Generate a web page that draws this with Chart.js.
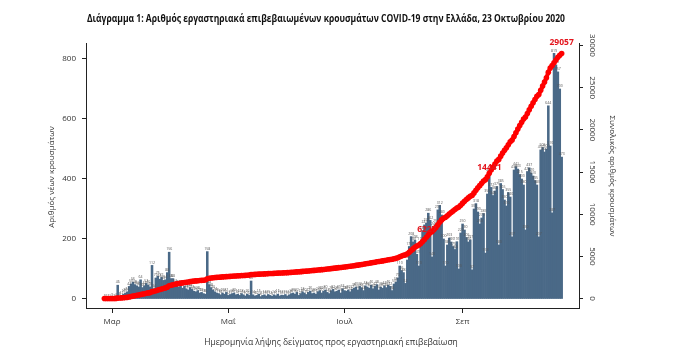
<!DOCTYPE html>
<html>
<head>
<meta charset="utf-8">
<script src="https://cdn.jsdelivr.net/npm/chart.js@4.4.1/dist/chart.umd.min.js"></script>
<style>
  html, body { margin: 0; padding: 0; background: #fff; }
  canvas { display: block; }
</style>
</head>
<body>
<canvas id="chart" width="680" height="359"></canvas>
<script>
const chartTitle = "Διάγραμμα 1: Αριθμός εργαστηριακά επιβεβαιωμένων κρουσμάτων COVID-19 στην Ελλάδα, 23 Οκτωβρίου 2020";
const leftAxisTitle = "Αριθμός νέων κρουσμάτων";
const rightAxisTitle = "Συνολικός αριθμός κρουσμάτων";
const xAxisTitle = "Ημερομηνία λήψης δείγματος προς εργαστηριακή επιβεβαίωση";

// one value per sample day, day 0 = 26 Feb 2020, last day = 23 Oct 2020
const newCases = [
  1, 0, 2, 1, 3, 2, 4, 46, 8, 12,
  16, 20, 24, 42, 50, 56, 48, 44, 40, 64,
  38, 44, 52, 46, 40, 112, 34, 70, 76, 66,
  72, 62, 64, 88, 156, 68, 68, 52, 46, 40,
  46, 36, 42, 34, 30, 38, 32, 26, 24, 28,
  20, 22, 18, 16, 158, 48, 38, 30, 24, 20,
  18, 14, 20, 16, 22, 12, 15, 18, 20, 14,
  16, 12, 18, 14, 10, 16, 12, 60, 14, 10,
  12, 16, 8, 12, 14, 10, 15, 12, 9, 14,
  11, 16, 10, 13, 12, 15, 10, 14, 18, 20,
  16, 22, 12, 18, 24, 20, 15, 22, 26, 18,
  20, 16, 24, 28, 20, 26, 30, 22, 18, 28,
  32, 24, 26, 30, 20, 34, 28, 26, 30, 24,
  32, 36, 40, 30, 42, 38, 28, 44, 40, 36,
  46, 34, 42, 48, 30, 40, 36, 44, 38, 46,
  42, 28, 50, 56, 70, 110, 95, 88, 52, 130,
  175, 208, 190, 196, 149, 110, 190, 228, 247, 253,
  286, 262, 140, 240, 250, 297, 312, 280, 200, 110,
  180, 203, 190, 175, 165, 191, 100, 220, 250, 230,
  205, 190, 197, 97, 300, 318, 290, 250, 270, 285,
  153, 350, 420, 372, 345, 360, 375, 180, 385, 365,
  330, 310, 355, 340, 207, 430, 441, 433, 415, 400,
  380, 230, 425, 437, 420, 410, 395, 380, 207, 497,
  505, 490, 500, 644, 510, 287, 819, 780, 757, 700,
  473
];

const totalCases = [
  1, 1, 3, 4, 7, 9, 13, 59, 67, 79,
  95, 115, 139, 181, 231, 287, 335, 379, 419, 483,
  521, 565, 617, 663, 703, 815, 849, 919, 995, 1061,
  1133, 1195, 1259, 1347, 1503, 1571, 1639, 1691, 1737, 1777,
  1823, 1859, 1901, 1935, 1965, 2003, 2035, 2061, 2085, 2113,
  2133, 2155, 2173, 2189, 2347, 2395, 2433, 2463, 2487, 2507,
  2525, 2539, 2559, 2575, 2597, 2609, 2624, 2642, 2662, 2676,
  2692, 2704, 2722, 2736, 2746, 2762, 2774, 2834, 2848, 2858,
  2870, 2886, 2894, 2906, 2920, 2930, 2945, 2957, 2966, 2980,
  2991, 3007, 3017, 3030, 3042, 3057, 3067, 3081, 3099, 3119,
  3135, 3157, 3169, 3187, 3211, 3231, 3246, 3268, 3294, 3312,
  3332, 3348, 3372, 3400, 3420, 3446, 3476, 3498, 3516, 3544,
  3576, 3600, 3626, 3656, 3676, 3710, 3738, 3764, 3794, 3818,
  3850, 3886, 3926, 3956, 3998, 4036, 4064, 4108, 4148, 4184,
  4230, 4264, 4306, 4354, 4384, 4424, 4460, 4504, 4542, 4588,
  4630, 4658, 4708, 4764, 4834, 4944, 5039, 5127, 5179, 5309,
  5484, 5692, 5882, 6078, 6227, 6337, 6527, 6755, 7002, 7255,
  7541, 7803, 7943, 8183, 8433, 8730, 9042, 9322, 9522, 9632,
  9812, 10015, 10205, 10380, 10545, 10736, 10836, 11056, 11306, 11536,
  11741, 11931, 12128, 12225, 12525, 12843, 13133, 13383, 13653, 13938,
  14091, 14441, 14861, 15233, 15578, 15938, 16313, 16493, 16878, 17243,
  17573, 17883, 18238, 18578, 18785, 19215, 19656, 20089, 20504, 20904,
  21284, 21514, 21939, 22376, 22796, 23206, 23601, 23981, 24188, 24685,
  25190, 25680, 26180, 26824, 27334, 27621, 27950, 28280, 28600, 28850,
  29057
];

const labelledDays = [164, 201, 240];
const xTickDays = [4, 65, 126, 188];
const xTickLabels = ["Μαρ", "Μαΐ", "Ιουλ", "Σεπ"];
const leftTicks = [0, 200, 400, 600, 800];
const rightTicks = [0, 5000, 10000, 15000, 20000, 25000, 30000];

const FONT = "'Open Sans', 'DejaVu Sans', sans-serif";
const AXIS_COLOR = "#222";
const TEXT_COLOR = "#333";

const textPlugin = {
  id: "texts",
  afterDatasetDraw(chart, args) {
    // tiny value labels over the daily bars, drawn under the red line
    if (args.index !== 1) return;
    const ctx = chart.ctx;
    ctx.save();
    ctx.font = "3.5px " + FONT;
    ctx.fillStyle = "#555";
    ctx.textAlign = "center";
    ctx.textBaseline = "bottom";
    args.meta.data.forEach((bar, i) => {
      ctx.fillText(String(newCases[i]), bar.x, bar.y - 1);
    });
    ctx.restore();
  },
  afterDraw(chart) {
    const ctx = chart.ctx;
    const y2 = chart.scales.y2;
    const x = chart.scales.x;

    // main title, squeezed to the width of the original
    ctx.save();
    ctx.font = "bold 10px " + FONT;
    ctx.fillStyle = "#111";
    ctx.textAlign = "center";
    ctx.textBaseline = "middle";
    const w = ctx.measureText(chartTitle).width;
    ctx.translate(326, 19);
    ctx.scale(478 / w, 1);
    ctx.fillText(chartTitle, 0, 0);
    ctx.restore();

    ctx.save();
    ctx.font = "8.5px " + FONT;
    ctx.fillStyle = TEXT_COLOR;
    ctx.textAlign = "center";
    ctx.textBaseline = "middle";
    ctx.fillText(xAxisTitle, 331, 343);

    ctx.font = "8px " + FONT;
    ctx.save();
    ctx.translate(52, 177);
    ctx.rotate(-Math.PI / 2);
    ctx.fillText(leftAxisTitle, 0, 0);
    ctx.restore();

    ctx.save();
    ctx.translate(612, 176);
    ctx.rotate(Math.PI / 2);
    ctx.fillText(rightAxisTitle, 0, 0);
    ctx.restore();

    // right axis tick labels, turned like the original
    rightTicks.forEach((v) => {
      ctx.save();
      ctx.translate(y2.left + 13.5, y2.getPixelForValue(v));
      ctx.rotate(Math.PI / 2);
      ctx.fillText(String(v), 0, 0);
      ctx.restore();
    });
    ctx.restore();

    // red milestone labels on the cumulative line
    const shift = [[10, -16], [2, -9], [0, -11]];
    ctx.save();
    ctx.font = "bold 8.5px " + FONT;
    ctx.fillStyle = "#e3141c";
    ctx.textAlign = "center";
    ctx.textBaseline = "middle";
    labelledDays.forEach((d, k) => {
      const px = x.getPixelForValue(d) + shift[k][0];
      const py = y2.getPixelForValue(totalCases[d]) + shift[k][1];
      ctx.fillText(String(totalCases[d]), px, py);
    });
    ctx.restore();
  },
};

const tickFont = { family: FONT, size: 8 };

new Chart(document.getElementById("chart"), {
  type: "bar",
  data: {
    datasets: [
      {
        type: "line",
        label: "Σύνολο",
        data: totalCases.map((v, i) => ({ x: i, y: v })),
        yAxisID: "y2",
        borderColor: "#ff0000",
        backgroundColor: "#ff0000",
        borderWidth: 4,
        pointRadius: 2.8,
        pointBorderWidth: 0,
        pointBackgroundColor: "#ff0000",
        tension: 0,
        order: 0,
      },
      {
        type: "bar",
        label: "Νέα κρούσματα",
        data: newCases.map((v, i) => ({ x: i, y: v })),
        yAxisID: "y",
        backgroundColor: "#4a6987",
        borderWidth: 0,
        barPercentage: 1,
        categoryPercentage: 1,
        order: 1,
      },
    ],
  },
  options: {
    responsive: false,
    animation: false,
    layout: { padding: { top: 43, left: 0, right: 0, bottom: 0 } },
    plugins: {
      legend: { display: false },
      tooltip: { enabled: false },
      title: { display: false },
    },
    scales: {
      x: {
        type: "linear",
        min: -9.65,
        max: 249.1,
        offset: false,
        afterBuildTicks: (s) => {
          s.ticks = xTickDays.map((v) => ({ value: v }));
        },
        afterFit: (s) => {
          s.height = 51;
        },
        ticks: {
          callback: (v, i) => xTickLabels[i],
          font: tickFont,
          color: TEXT_COLOR,
          padding: 4,
          maxRotation: 0,
          autoSkip: false,
        },
        grid: { offset: false, drawOnChartArea: false, tickLength: 5, color: AXIS_COLOR },
        border: { color: AXIS_COLOR, width: 1 },
      },
      y: {
        position: "left",
        min: -30,
        max: 853.33,
        afterBuildTicks: (s) => {
          s.ticks = leftTicks.map((v) => ({ value: v }));
        },
        afterFit: (s) => {
          s.width = 86;
        },
        ticks: { font: tickFont, color: TEXT_COLOR, padding: 6 },
        grid: { drawOnChartArea: false, tickLength: 4, color: AXIS_COLOR },
        border: { color: AXIS_COLOR, width: 1 },
      },
      y2: {
        position: "right",
        min: -1126,
        max: 30297,
        afterBuildTicks: (s) => {
          s.ticks = rightTicks.map((v) => ({ value: v }));
        },
        afterFit: (s) => {
          s.width = 101;
        },
        ticks: { display: false },
        grid: { drawOnChartArea: false, tickLength: 4, color: AXIS_COLOR },
        border: { color: AXIS_COLOR, width: 1 },
      },
    },
  },
  plugins: [textPlugin],
});
</script>
</body>
</html>
